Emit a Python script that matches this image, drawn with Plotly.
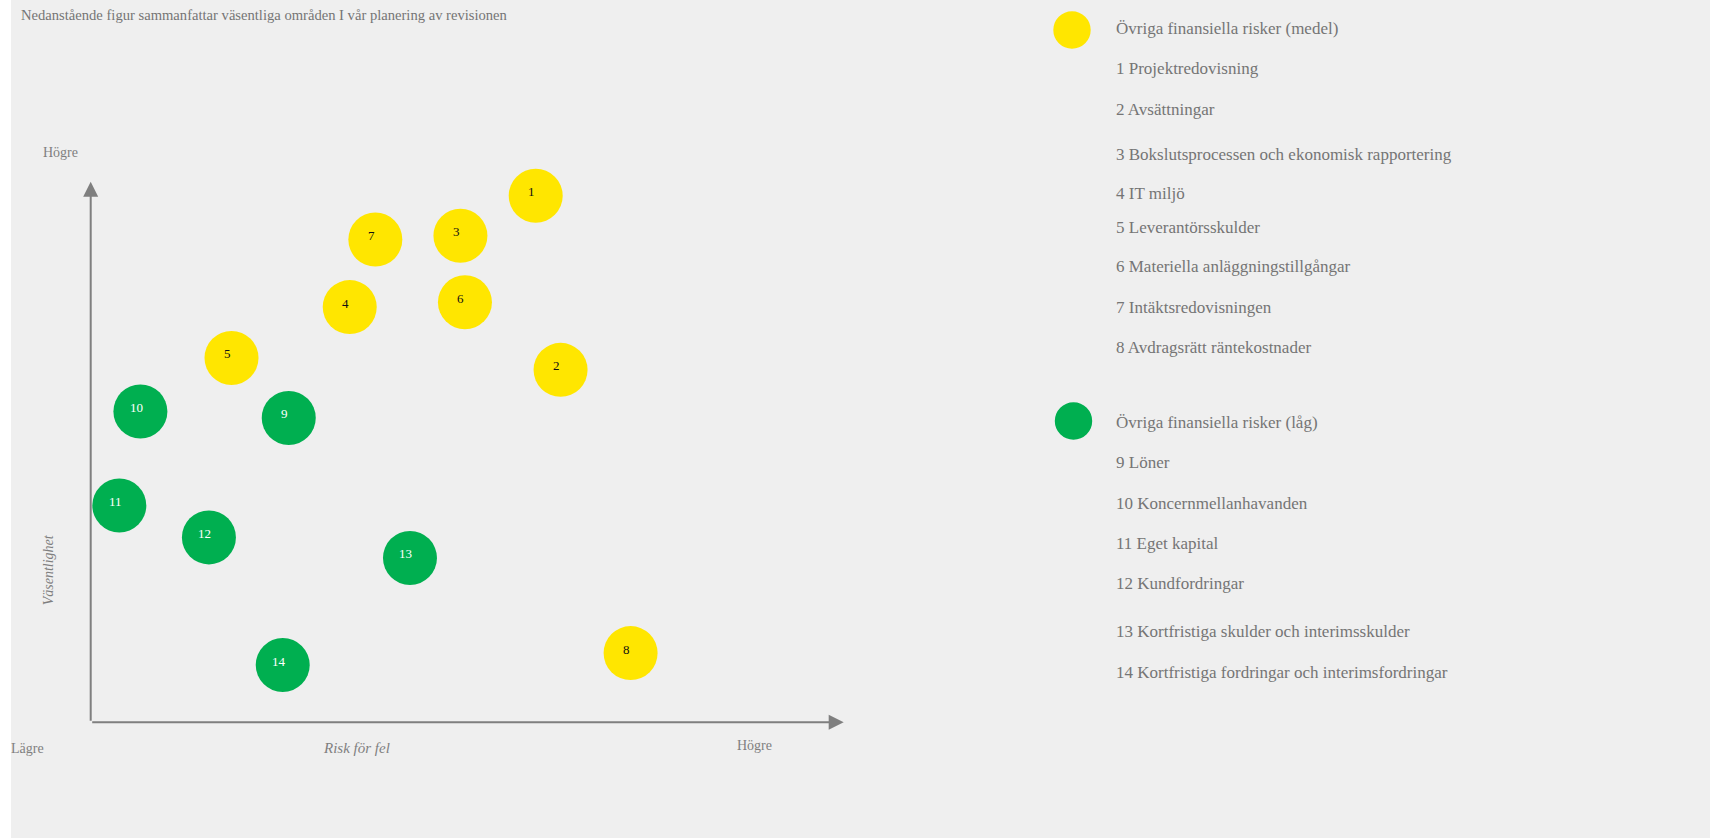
import plotly.graph_objects as go

# ---- data ----
ids = [1, 2, 3, 4, 5, 6, 7, 8, 9, 10, 11, 12, 13, 14]
risk = [5.91, 6.24, 4.91, 3.44, 1.87, 4.97, 3.78, 7.17, 2.63, 0.66, 0.38, 1.57, 4.24, 2.55]
materiality = [9.74, 6.52, 9.00, 7.68, 6.74, 7.77, 8.93, 1.28, 5.63, 5.75, 4.01, 3.42, 3.04, 1.06]
level = ["medel"] * 8 + ["låg"] * 6

names_medel = ["1 Projektredovisning", "2 Avsättningar",
               "3 Bokslutsprocessen och ekonomisk rapportering", "4 IT miljö",
               "5 Leverantörsskulder", "6 Materiella anläggningstillgångar",
               "7 Intäktsredovisningen", "8 Avdragsrätt räntekostnader"]
names_lag = ["9 Löner", "10 Koncernmellanhavanden", "11 Eget kapital",
             "12 Kundfordringar", "13 Kortfristiga skulder och interimsskulder",
             "14 Kortfristiga fordringar och interimsfordringar"]
group_titles = {"medel": "Övriga finansiella risker (medel)", "låg": "Övriga finansiella risker (låg)"}
title_text = "Nedanstående figur sammanfattar väsentliga områden I vår planering av revisionen"

# ---- styles ----
W, H = 1710, 838
YELLOW = "#FFE600"
GREEN = "#00AF50"
GREY_TXT = "#757575"
AXIS_GREY = "#7f7f7f"
BG = "#efefef"
FONT = "Liberation Serif"
colors = {"medel": YELLOW, "låg": GREEN}
txtcolors = {"medel": "#111111", "låg": "#ffffff"}

fig = go.Figure()
for lv in ["medel", "låg"]:
    xs = [r for r, l in zip(risk, level) if l == lv]
    ys = [m for m, l in zip(materiality, level) if l == lv]
    fig.add_trace(go.Scatter(x=xs, y=ys, mode="markers", cliponaxis=False,
                             marker=dict(size=54, color=colors[lv], line=dict(width=0)),
                             hoverinfo="skip", showlegend=False))

annotations = []
for i, r, m, lv in zip(ids, risk, materiality, level):
    annotations.append(dict(x=r, y=m, xref="x", yref="y", text=str(i), showarrow=False,
                            xshift=-4, yshift=4,
                            font=dict(family=FONT, size=13, color=txtcolors[lv])))

# axis arrows
annotations.append(dict(x=10, y=0, ax=0, ay=0, xref="x", yref="y", axref="x", ayref="y",
                        text="", showarrow=True, arrowhead=2, arrowsize=1.5, arrowwidth=2,
                        arrowcolor=AXIS_GREY, standoff=0, startstandoff=0))
annotations.append(dict(x=0, y=10, ax=0, ay=0, xref="x", yref="y", axref="x", ayref="y",
                        text="", showarrow=True, arrowhead=2, arrowsize=1.5, arrowwidth=2,
                        arrowcolor=AXIS_GREY, standoff=0, startstandoff=0))

def px(x):
    return x / W

def py(y):
    return 1 - y / H

def label(x, y, text, size=13, italic=False, angle=0, color=AXIS_GREY, xanchor="center"):
    annotations.append(dict(x=px(x), y=py(y), xref="paper", yref="paper", text=text,
                            showarrow=False, xanchor=xanchor, yanchor="middle", textangle=angle,
                            font=dict(family=FONT, size=size, color=color,
                                      style="italic" if italic else "normal")))

label(18.5, 15, title_text, size=14.6, color=GREY_TXT, xanchor="left")
label(60.5, 152, "Högre", size=14)
label(27.5, 748.5, "Lägre", size=14)
label(356.5, 747.5, "Risk för fel", size=15, italic=True)
label(754.3, 745, "Högre", size=14)
label(48.3, 570, "Väsentlighet", size=14, italic=True, angle=-90)

# legend text
legend_x = 1113.5
medel_y = [28, 69, 110, 154, 193, 227, 266, 307, 347]
lag_y = [422, 462, 503, 543, 583.5, 631, 672]
for t, yy in zip([group_titles["medel"]] + names_medel, medel_y):
    label(legend_x, yy, t, size=17, color=GREY_TXT, xanchor="left")
for t, yy in zip([group_titles["låg"]] + names_lag, lag_y):
    label(legend_x, yy, t, size=17, color=GREY_TXT, xanchor="left")

shapes = [dict(type="rect", xref="paper", yref="paper", x0=px(11), x1=1, y0=0, y1=1,
               fillcolor=BG, line=dict(width=0), layer="below")]
for cx, cy, col in [(1072, 30, YELLOW), (1073.5, 421, GREEN)]:
    shapes.append(dict(type="circle", xref="paper", yref="paper", xsizemode="pixel",
                       ysizemode="pixel", xanchor=px(cx), yanchor=py(cy),
                       x0=-18.7, x1=18.7, y0=-18.7, y1=18.7,
                       fillcolor=col, line=dict(width=0)))

fig.update_layout(
    width=W, height=H, margin=dict(l=0, r=0, t=0, b=0),
    paper_bgcolor="white", plot_bgcolor="rgba(0,0,0,0)",
    xaxis=dict(domain=[90.7 / W, 843.7 / W], range=[0, 10], visible=False, fixedrange=True),
    yaxis=dict(domain=[py(722.3), py(181.7)], range=[0, 10], visible=False, fixedrange=True),
    annotations=annotations, shapes=shapes, showlegend=False,
)
fig.write_html("out.html", config={"displayModeBar": False})
